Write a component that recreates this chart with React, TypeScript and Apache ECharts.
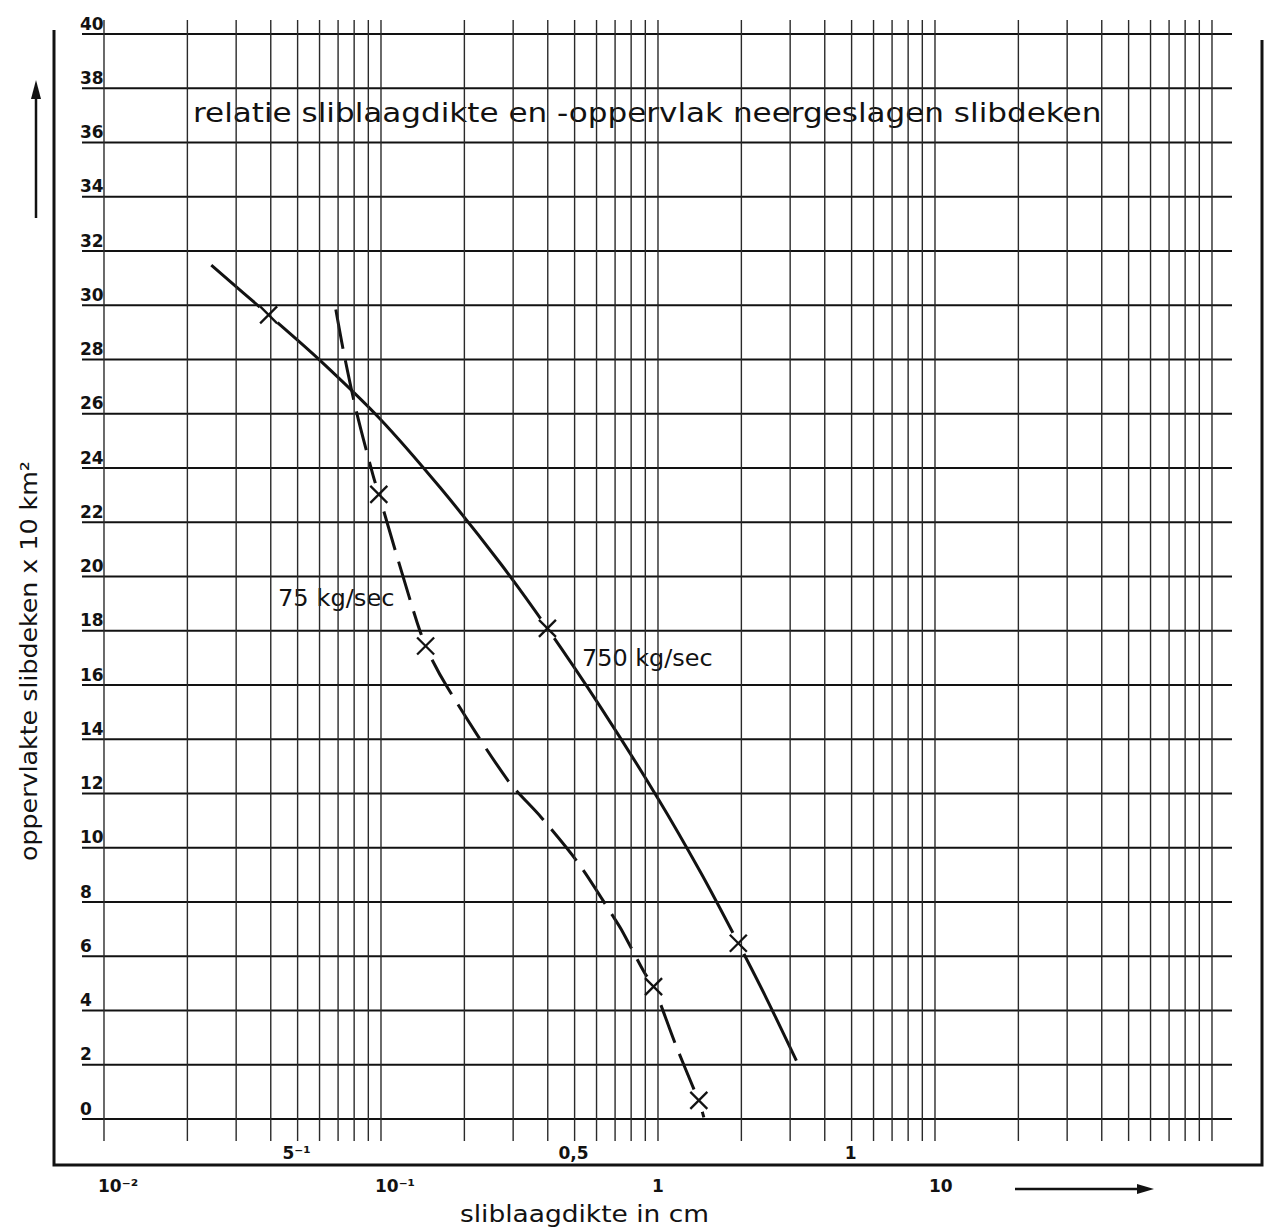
import React, { useEffect, useRef } from 'react';
import * as echarts from 'echarts';

const FONT = "'DejaVu Sans', 'Liberation Sans', sans-serif";
const INK = '#121212';

// ---- axes / ticks ----
const Y_TICKS = [0, 2, 4, 6, 8, 10, 12, 14, 16, 18, 20, 22, 24, 26, 28, 30, 32, 34, 36, 38, 40];
const X_GRID = [
  0.01, 0.02, 0.03, 0.04, 0.05, 0.06, 0.07, 0.08, 0.09,
  0.1, 0.2, 0.3, 0.4, 0.5, 0.6, 0.7, 0.8, 0.9,
  1, 2, 3, 4, 5, 6, 7, 8, 9,
  10, 20, 30, 40, 50, 60, 70, 80, 90, 100,
];
const BOTTOM_TICK_VALUES = [0.01, 0.1, 1, 10];
const BOTTOM_TICK_LABELS = ['10⁻²', '10⁻¹', '1', '10'];
const INNER_TICK_VALUES = [0.05, 0.5, 5];
const INNER_TICK_LABELS = ['5⁻¹', '0,5', '1'];

// ---- 750 kg/sec (solid) ----
const S750_X = [0.0244, 0.0393, 0.0597, 0.0987, 0.1632, 0.2696, 0.399, 0.622, 1.001, 1.433, 1.95, 2.46, 3.16];
const S750_Y = [31.48, 29.65, 28.01, 25.84, 23.29, 20.49, 18.09, 15.17, 11.81, 9.05, 6.48, 4.46, 2.15];
const M750_X = [0.0393, 0.399, 1.95];
const M750_Y = [29.65, 18.09, 6.48];

// ---- 75 kg/sec (dashed) ----
const S75_X = [0.0687, 0.0736, 0.0815, 0.0934, 0.0982, 0.1277, 0.1449, 0.174, 0.2875, 0.379, 0.516, 0.691, 0.739, 0.894, 0.964, 1.15, 1.358, 1.404, 1.464];
const S75_Y = [29.85, 28.19, 26.09, 23.77, 23.03, 19.1, 17.44, 15.9, 12.48, 11.12, 9.43, 7.45, 6.97, 5.39, 4.88, 2.82, 1.02, 0.69, 0.06];
const M75_X = [0.0982, 0.1449, 0.964, 1.404];
const M75_Y = [23.03, 17.44, 4.88, 0.69];

const TITLE = 'relatie sliblaagdikte en -oppervlak neergeslagen slibdeken';
const X_TITLE = 'sliblaagdikte in cm';
const Y_TITLE = 'oppervlakte slibdeken x 10 km²';
const LABEL_75 = '75 kg/sec';
const LABEL_750 = '750 kg/sec';

// axis extents (grid reaches slightly past the ruled lines)
const X_MIN = 0.008329;
const X_MAX = 118.1;
const Y_MIN = -0.81;
const Y_MAX = 40.52;

const pairs = (xs: number[], ys: number[]) => xs.map((x, i) => [x, ys[i]]);

function txt(text: string, font: string, align: string, valign: string) {
  return {
    text,
    font,
    fill: INK,
    align,
    verticalAlign: valign,
    textAlign: align,
    textVerticalAlign: valign,
  };
}

export default function App() {
  const ref = useRef<HTMLDivElement>(null);

  useEffect(() => {
    if (!ref.current) return;
    const chart = echarts.init(ref.current, null, { renderer: 'svg' });
    const marks = [...pairs(M750_X, M750_Y), ...pairs(M75_X, M75_Y)];

    const option: any = {
      animation: false,
      backgroundColor: '#ffffff',
      grid: { left: 82, right: 34, top: 20, bottom: 91, containLabel: false },
      xAxis: {
        type: 'log',
        logBase: 10,
        min: X_MIN,
        max: X_MAX,
        axisLine: { show: false },
        axisTick: { show: false },
        axisLabel: { show: false },
        splitLine: { show: false },
      },
      yAxis: {
        type: 'value',
        min: Y_MIN,
        max: Y_MAX,
        axisLine: { show: false },
        axisTick: { show: false },
        axisLabel: { show: false },
        splitLine: { show: false },
      },
      series: [
        {
          type: 'line',
          name: LABEL_750,
          data: pairs(S750_X, S750_Y),
          smooth: 0.3,
          symbol: 'none',
          lineStyle: { color: INK, width: 3 },
          z: 2,
          silent: true,
        },
        {
          type: 'line',
          name: LABEL_75,
          data: pairs(S75_X, S75_Y),
          smooth: 0.3,
          symbol: 'none',
          lineStyle: { color: INK, width: 3, type: [40, 12] },
          z: 2,
          silent: true,
        },
        {
          // white gaps in the curves around the crosses
          type: 'custom',
          data: marks,
          clip: false,
          z: 3,
          silent: true,
          renderItem: (_p: any, api: any) => {
            const c = api.coord([api.value(0), api.value(1)]);
            return { type: 'circle', shape: { cx: c[0], cy: c[1], r: 12 }, style: { fill: '#ffffff', stroke: null } };
          },
        },
        {
          // horizontal ruling
          type: 'custom',
          data: Y_TICKS.map((v) => [X_MIN, v]),
          clip: false,
          z: 4,
          silent: true,
          renderItem: (_p: any, api: any) => {
            const a = api.coord([X_MIN, api.value(1)]);
            const b = api.coord([X_MAX, api.value(1)]);
            return { type: 'line', shape: { x1: a[0], y1: a[1], x2: b[0], y2: b[1] }, style: { stroke: INK, lineWidth: 2 } };
          },
        },
        {
          // vertical log ruling
          type: 'custom',
          data: X_GRID.map((v) => [v, Y_MIN]),
          clip: false,
          z: 4,
          silent: true,
          renderItem: (_p: any, api: any) => {
            const a = api.coord([api.value(0), Y_MIN]);
            const b = api.coord([api.value(0), Y_MAX]);
            return { type: 'line', shape: { x1: a[0], y1: a[1], x2: b[0], y2: b[1] }, style: { stroke: '#2a2a2a', lineWidth: 1.4 } };
          },
        },
        {
          // cross markers
          type: 'custom',
          data: marks,
          clip: false,
          z: 5,
          silent: true,
          renderItem: (_p: any, api: any) => {
            const c = api.coord([api.value(0), api.value(1)]);
            const s = 8.5;
            const st = { stroke: INK, lineWidth: 2.3 };
            return {
              type: 'group',
              children: [
                { type: 'line', shape: { x1: c[0] - s, y1: c[1] - s, x2: c[0] + s, y2: c[1] + s }, style: st },
                { type: 'line', shape: { x1: c[0] - s, y1: c[1] + s, x2: c[0] + s, y2: c[1] - s }, style: st },
              ],
            };
          },
        },
        {
          // y tick labels (above-left of each ruling)
          type: 'custom',
          data: Y_TICKS.map((v) => [X_MIN, v]),
          clip: false,
          z: 5,
          silent: true,
          renderItem: (p: any, api: any) => {
            const c = api.coord([X_MIN, api.value(1)]);
            return {
              type: 'text',
              x: c[0] - 2,
              y: c[1] - 2,
              style: txt(String(Y_TICKS[p.dataIndex]), `bold 17px ${FONT}`, 'left', 'bottom'),
            };
          },
        },
        {
          // outer x labels
          type: 'custom',
          data: BOTTOM_TICK_VALUES.map((v) => [v, Y_MIN]),
          clip: false,
          z: 5,
          silent: true,
          renderItem: (p: any, api: any) => {
            const c = api.coord([api.value(0), Y_MIN]);
            return {
              type: 'text',
              x: c[0] - 6,
              y: c[1] + 45,
              style: txt(BOTTOM_TICK_LABELS[p.dataIndex], `bold 17px ${FONT}`, 'left', 'middle'),
            };
          },
        },
        {
          // inner x labels
          type: 'custom',
          data: INNER_TICK_VALUES.map((v) => [v, Y_MIN]),
          clip: false,
          z: 5,
          silent: true,
          renderItem: (p: any, api: any) => {
            const c = api.coord([api.value(0), Y_MIN]);
            return {
              type: 'text',
              x: c[0] - 1,
              y: c[1] + 12,
              style: txt(INNER_TICK_LABELS[p.dataIndex], `bold 17px ${FONT}`, 'center', 'middle'),
            };
          },
        },
      ],
      graphic: [
        {
          type: 'polyline',
          silent: true,
          shape: { points: [[54, 30], [54, 1165], [1262, 1165], [1262, 40]] },
          style: { stroke: INK, lineWidth: 3, fill: null },
        },
        { type: 'line', silent: true, shape: { x1: 36, y1: 218, x2: 36, y2: 96 }, style: { stroke: INK, lineWidth: 2.5 } },
        { type: 'polygon', silent: true, shape: { points: [[36, 80], [31, 99], [41, 99]] }, style: { fill: INK } },
        { type: 'line', silent: true, shape: { x1: 1015, y1: 1189, x2: 1140, y2: 1189 }, style: { stroke: INK, lineWidth: 2.5 } },
        { type: 'polygon', silent: true, shape: { points: [[1154, 1189], [1137, 1184], [1137, 1194]] }, style: { fill: INK } },
        {
          type: 'text',
          silent: true,
          x: 193,
          y: 113,
          scaleX: 1.15,
          style: txt(TITLE, `27px ${FONT}`, 'left', 'middle'),
        },
        {
          type: 'text',
          silent: true,
          x: 460,
          y: 1214,
          scaleX: 1.15,
          style: txt(X_TITLE, `23px ${FONT}`, 'left', 'middle'),
        },
        {
          type: 'text',
          silent: true,
          x: 29,
          y: 661,
          rotation: Math.PI / 2,
          scaleX: 1.1,
          style: txt(Y_TITLE, `23px ${FONT}`, 'center', 'middle'),
        },
        {
          type: 'text',
          silent: true,
          x: 278,
          y: 598,
          scaleX: 1.05,
          style: txt(LABEL_75, `23px ${FONT}`, 'left', 'middle'),
        },
        {
          type: 'text',
          silent: true,
          x: 582,
          y: 658,
          scaleX: 1.04,
          style: txt(LABEL_750, `23px ${FONT}`, 'left', 'middle'),
        },
      ],
    };

    chart.setOption(option);
    return () => chart.dispose();
  }, []);

  return (
    <div
      ref={ref}
      style={{ position: 'absolute', left: 0, top: 0, width: 1266, height: 1232, background: '#ffffff' }}
    />
  );
}
